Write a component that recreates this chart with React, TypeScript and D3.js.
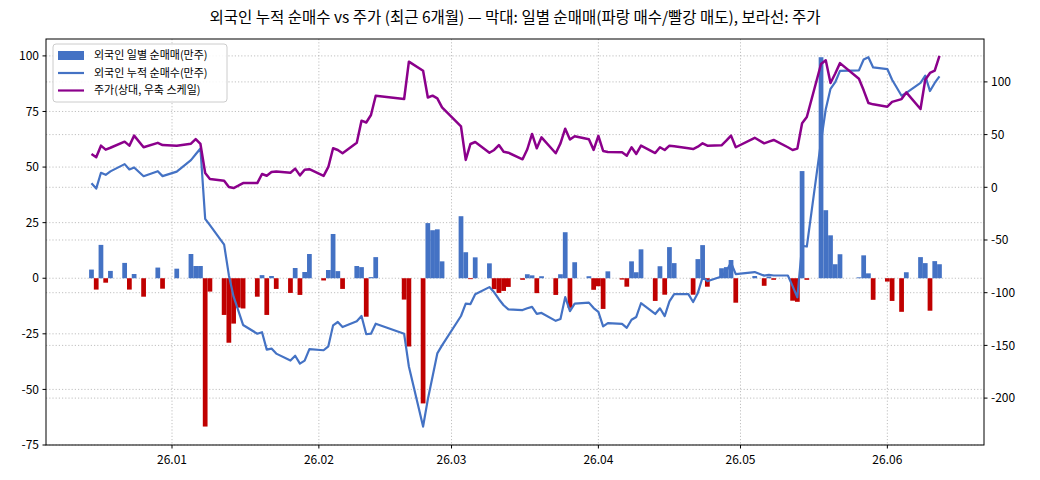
import * as d3 from "d3";
import React from "react";

// trading days (KRX calendar) shown in the chart
const tradingDays = [
  // 2025-12
  "2025-12-15", "2025-12-16", "2025-12-17", "2025-12-18", "2025-12-19",
  "2025-12-22", "2025-12-23", "2025-12-24", "2025-12-26", "2025-12-29", "2025-12-30",
  // 2026-01
  "2026-01-02", "2026-01-05", "2026-01-06", "2026-01-07", "2026-01-08", "2026-01-09",
  "2026-01-12", "2026-01-13", "2026-01-14", "2026-01-15", "2026-01-16",
  "2026-01-19", "2026-01-20", "2026-01-21", "2026-01-22", "2026-01-23",
  "2026-01-26", "2026-01-27", "2026-01-28", "2026-01-29", "2026-01-30",
  // 2026-02
  "2026-02-02", "2026-02-03", "2026-02-04", "2026-02-05", "2026-02-06",
  "2026-02-09", "2026-02-10", "2026-02-11", "2026-02-12", "2026-02-13",
  "2026-02-19", "2026-02-20", "2026-02-23", "2026-02-24", "2026-02-25", "2026-02-26", "2026-02-27",
  // 2026-03
  "2026-03-03", "2026-03-04", "2026-03-05", "2026-03-06",
  "2026-03-09", "2026-03-10", "2026-03-11", "2026-03-12", "2026-03-13",
  "2026-03-16", "2026-03-17", "2026-03-18", "2026-03-19", "2026-03-20",
  "2026-03-23", "2026-03-24", "2026-03-25", "2026-03-26", "2026-03-27",
  "2026-03-30", "2026-03-31",
  // 2026-04
  "2026-04-01", "2026-04-02", "2026-04-03",
  "2026-04-06", "2026-04-07", "2026-04-08", "2026-04-09", "2026-04-10",
  "2026-04-13", "2026-04-14", "2026-04-15", "2026-04-16", "2026-04-17",
  "2026-04-20", "2026-04-21", "2026-04-22", "2026-04-23", "2026-04-24",
  "2026-04-27", "2026-04-28", "2026-04-29", "2026-04-30",
  // 2026-05
  "2026-05-04", "2026-05-06", "2026-05-07", "2026-05-08",
  "2026-05-11", "2026-05-12", "2026-05-13", "2026-05-14", "2026-05-15",
  "2026-05-18", "2026-05-19", "2026-05-20", "2026-05-21", "2026-05-22",
  "2026-05-26", "2026-05-27", "2026-05-28", "2026-05-29",
  // 2026-06
  "2026-06-01", "2026-06-02", "2026-06-04", "2026-06-05",
  "2026-06-08", "2026-06-09", "2026-06-10", "2026-06-11", "2026-06-12",
];

// 외국인 일별 순매매 (만주) - left axis
const dailyNet = [
  3.9, -5.1, 15.0, -2.0, 3.3, 6.9, -5.1, 1.9, -8.3, 4.8, -4.7,
  4.3, 10.9, 5.5, 5.5, -66.7, -6.0, -16.5, -29.0, -20.4, -13.2, -13.6,
  -8.3, 1.4, -16.5, 1.0, -4.8, -6.6, 4.6, -7.5, 2.8, 10.9,
  -1.0, 3.7, 19.9, 3.2, -4.8, 5.5, 5.0, -17.3, 0.5, 9.5,
  -9.6, -30.7, -56.3, 24.8, 21.6, 22.0, 7.6,
  27.9, 11.7, -0.4, 9.4, 6.7, -4.9, -6.6, -5.7, -3.9, -0.7, 1.8, 1.3, -6.7, 0.9,
  -7.5, 1.8, 20.7, -13.3, 7.2, 0.9, -5.2,
  -3.6, -13.8, 3.1, -0.6, -3.8, 7.6, 2.7, 13.0, -10.2, 5.4, -7.4, 14.0, 6.8,
  0, -7.4, 8.6, 14.9, -3.8, 4.5, 5.0, 8.2, -11.0,
  1.0, -3.4, 0.8, -0.7, 0, -10.1, -10.6, 48.2, -0.7,
  99.4, 30.6, 19.3, 6.3, 10.8, 0.4, 10.3, 2.2, -9.7,
  -1.5, -10.2, -15.1, 2.7, 9.5, 6.8, -14.6, 7.7, 6.3,
];

// 외국인 누적 순매수 (만주) - right axis
const cumNet = [
  3.9, -1.2, 13.8, 11.8, 15.1, 22.0, 16.9, 18.8, 10.5, 15.3, 10.6,
  14.9, 25.8, 31.3, 36.8, -29.9, -35.9, -54.4, -83.4, -103.8, -117.0, -130.6,
  -138.9, -137.5, -154.0, -153.0, -157.8, -164.4, -159.8, -167.3, -164.5, -153.6,
  -154.6, -150.9, -131.0, -127.8, -132.6, -127.1, -122.1, -139.4, -138.9, -129.4,
  -139.0, -170.0, -227.0, -201.2, -179.6, -157.6, -150.0,
  -122.1, -110.4, -110.8, -101.4, -94.7, -99.6, -106.2, -111.9, -115.8, -116.5, -114.7, -113.4, -120.1, -119.2,
  -126.7, -124.9, -104.2, -117.5, -110.3, -109.4, -114.6,
  -118.2, -132.0, -128.9, -129.5, -133.3, -125.7, -123.0, -110.0, -120.2, -114.8, -122.2, -108.2, -101.4,
  -101.4, -108.8, -100.2, -85.3, -89.1, -84.6, -79.6, -71.4, -82.4,
  -80.4, -83.8, -83.0, -83.7, -83.7, -93.8, -104.4, -55.5, -56.2,
  43.5, 74.1, 93.4, 99.7, 110.5, 110.9, 121.2, 123.4, 113.7,
  112.2, 102.0, 86.9, 89.6, 99.1, 105.9, 91.3, 99.0, 105.3,
];

// 주가 (상대, 우축 스케일)
const priceRel = [
  31.6, 28.5, 39.5, 35.7, 37.5, 43.3, 39.5, 49.0, 38.0, 42.2, 40.1,
  39.4, 41.4, 45.8, 41.1, 13.5, 7.9, 6.3, 0.2, -0.7, 1.5, 4.0,
  4.0, 12.6, 11.0, 14.5, 15.0, 13.8, 17.7, 11.3, 16.6, 17.2,
  10.8, 19.3, 37.0, 35.4, 32.3, 42.2, 63.2, 61.5, 68.6, 86.9,
  83.8, 119.2, 110.6, 85.2, 86.9, 84.4, 75.8,
  57.7, 26.0, 41.1, 43.0, 32.8, 35.4, 40.1, 33.8, 32.8, 26.6, 36.1, 50.6, 37.0, 47.4,
  32.3, 41.7, 55.6, 45.3, 48.5, 45.6, 35.5,
  48.8, 34.5, 33.5, 33.2, 30.0, 38.0, 31.6, 39.5, 32.5, 38.0, 35.4, 39.5, 38.9,
  37.0, 36.3, 38.5, 41.7, 39.5, 39.8, 44.2, 49.0, 38.0,
  47.0, 41.7, 43.3, 44.9, 38.0, 35.4, 36.7, 60.8, 66.7,
  117.0, 120.5, 99.0, 108.0, 117.8, 103.0, 92.0, 80.0, 78.7,
  76.5, 81.0, 83.7, 90.0, 74.3, 102.0, 108.5, 110.6, 124.7,
];

const leftTicks = [-75, -50, -25, 0, 25, 50, 75, 100];
const rightTicks = [-200, -150, -100, -50, 0, 50, 100];

const title =
  "외국인 누적 순매수 vs 주가 (최근 6개월) — 막대: 일별 순매매(파랑 매수/빨강 매도), 보라선: 주가";
const legendItems = [
  { label: "외국인 일별 순매매(만주)", kind: "bar", color: "#4472C4" },
  { label: "외국인 누적 순매수(만주)", kind: "line", color: "#4472C4" },
  { label: "주가(상대, 우축 스케일)", kind: "line", color: "#8B008B" },
];

const BLUE = "#4472C4";
const RED = "#C00000";
const PURPLE = "#8B008B";
const FONT = "'Noto Sans CJK KR', 'Noto Sans', sans-serif";

const W = 1040;
const H = 480;
const box = { left: 46, right: 984, top: 39, bottom: 445 };
const DAY = 864e5;

export default function App() {
  const parse = d3.utcParse("%Y-%m-%d");
  const dates = tradingDays.map((d) => parse(d)!);
  const jan1 = Date.UTC(2026, 0, 1);

  const x = d3
    .scaleUtc()
    .domain([new Date(jan1 - 26.6 * DAY), new Date(jan1 + 171.4 * DAY)])
    .range([box.left, box.right]);
  const yL = d3.scaleLinear().domain([-75, 107.6]).range([box.bottom, box.top]);
  const yR = d3.scaleLinear().domain([-244.5, 140.7]).range([box.bottom, box.top]);

  const months = d3.utcMonth.range(new Date(jan1), new Date(Date.UTC(2026, 6, 1)));
  const fmt = d3.utcFormat("%y.%m");

  const line = d3
    .line<number>()
    .x((_, i) => x(dates[i]))
    .y((v) => yR(v));

  const grid = { stroke: "#b0b0b0", strokeWidth: 0.8, strokeDasharray: "1.2,2" };

  return (
    <svg
      width={W}
      height={H}
      style={{ position: "absolute", left: 0, top: 0, background: "#fff" }}
      fontFamily={FONT}
    >
      <rect width={W} height={H} fill="#fff" />
      <text x={515} y={23} textAnchor="middle" fontSize={15.5} fill="#000">
        {title}
      </text>

      {/* grid */}
      {leftTicks.map((t) => (
        <line key={"gl" + t} x1={box.left} x2={box.right} y1={yL(t)} y2={yL(t)} {...grid} />
      ))}
      {rightTicks.map((t) => (
        <line key={"gr" + t} x1={box.left} x2={box.right} y1={yR(t)} y2={yR(t)} {...grid} />
      ))}
      {months.map((m) => (
        <line key={"gx" + m.getTime()} x1={x(m)} x2={x(m)} y1={box.top} y2={box.bottom} {...grid} />
      ))}

      {/* daily bars */}
      {dailyNet.map((v, i) => {
        const x0 = x(new Date(dates[i].getTime() - DAY / 2));
        const x1 = x(new Date(dates[i].getTime() + DAY / 2));
        const y0 = yL(Math.max(0, v));
        const y1 = yL(Math.min(0, v));
        return (
          <rect
            key={"b" + i}
            x={x0}
            width={x1 - x0}
            y={y0}
            height={y1 - y0}
            fill={v >= 0 ? BLUE : RED}
          />
        );
      })}

      {/* lines */}
      <path d={line(cumNet)!} fill="none" stroke={BLUE} strokeWidth={2.2} strokeLinejoin="round" />
      <path d={line(priceRel)!} fill="none" stroke={PURPLE} strokeWidth={2.5} strokeLinejoin="round" />

      {/* frame */}
      <rect
        x={box.left}
        y={box.top}
        width={box.right - box.left}
        height={box.bottom - box.top}
        fill="none"
        stroke="#000"
        strokeWidth={1}
      />

      {/* left axis */}
      {leftTicks.map((t) => (
        <g key={"tl" + t} transform={`translate(${box.left},${yL(t)})`}>
          <line x2={-3.5} stroke="#000" />
          <text x={-7} dy="0.35em" textAnchor="end" fontSize={12}>
            {t}
          </text>
        </g>
      ))}
      {/* right axis */}
      {rightTicks.map((t) => (
        <g key={"tr" + t} transform={`translate(${box.right},${yR(t)})`}>
          <line x2={3.5} stroke="#000" />
          <text x={7} dy="0.35em" textAnchor="start" fontSize={12}>
            {t}
          </text>
        </g>
      ))}
      {/* bottom axis */}
      {months.map((m) => (
        <g key={"tx" + m.getTime()} transform={`translate(${x(m)},${box.bottom})`}>
          <line y2={3.5} stroke="#000" />
          <text y={19} textAnchor="middle" fontSize={12}>
            {fmt(m)}
          </text>
        </g>
      ))}

      {/* legend */}
      <g transform="translate(53,44)">
        <rect width={174} height={58} rx={3} fill="#fff" fillOpacity={0.85} stroke="#cccccc" />
        {legendItems.map((it, i) => {
          const cy = 11.5 + i * 17.5;
          return (
            <g key={it.label}>
              {it.kind === "bar" ? (
                <rect x={5} y={cy - 4.5} width={26} height={9} fill={it.color} />
              ) : (
                <line x1={5} x2={31} y1={cy} y2={cy} stroke={it.color} strokeWidth={2.2} />
              )}
              <text x={41} y={cy} dy="0.35em" fontSize={11}>
                {it.label}
              </text>
            </g>
          );
        })}
      </g>
    </svg>
  );
}
